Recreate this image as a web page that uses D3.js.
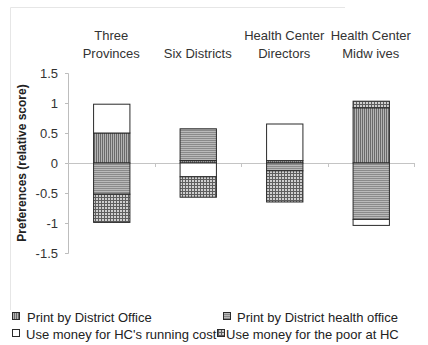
<!DOCTYPE html>
<html><head><meta charset="utf-8">
<script src="https://cdn.jsdelivr.net/npm/d3@7"></script>
<style>body{margin:0;background:#fff}svg{display:block}</style>
</head><body><svg id="c" width="428" height="345"></svg>
<script>
const categories = [["Three","Provinces"],["Six Districts"],["Health Center","Directors"],["Health Center","Midw ives"]];
const seriesNames = ["Print by District Office","Print by District health office","Use money for HC's running cost","Use money for the poor at HC"];
const printDistrictOffice = [0.50, 0.04, 0.04, 0.92];
const printDistrictHealthOffice = [-0.52, 0.53, -0.13, -0.94];
const useMoneyRunningCost = [0.48, -0.23, 0.61, -0.10];
const useMoneyPoor = [-0.47, -0.34, -0.52, 0.11];
const yTicks = [1.5, 1, 0.5, 0, -0.5, -1, -1.5];

const svg = d3.select("#c");
const defs = svg.append("defs");
// patterns
let p = defs.append("pattern").attr("id","pv").attr("patternUnits","userSpaceOnUse").attr("width",2).attr("height",2);
p.append("rect").attr("width",2).attr("height",2).attr("fill","#b4b4b4");
p.append("rect").attr("width",1).attr("height",2).attr("fill","#6a6a6a");
p = defs.append("pattern").attr("id","ph").attr("patternUnits","userSpaceOnUse").attr("width",2).attr("height",2);
p.append("rect").attr("width",2).attr("height",2).attr("fill","#bababa");
p.append("rect").attr("width",2).attr("height",1).attr("fill","#8a8a8a");
p = defs.append("pattern").attr("id","pd").attr("patternUnits","userSpaceOnUse").attr("width",3).attr("height",3);
p.append("rect").attr("width",3).attr("height",3).attr("fill","#5e5e5e");
p.append("rect").attr("width",2).attr("height",2).attr("fill","#cfcfcf");
const fills = ["url(#pv)","url(#ph)","#ffffff","url(#pd)"];

// frame
svg.append("path").attr("d","M10.5,310 V7.5 H345").attr("fill","none").attr("stroke","#e6e6e6");

const keys = seriesNames;
const rows = categories.map((c,i)=>({i, [keys[0]]:printDistrictOffice[i],[keys[1]]:printDistrictHealthOffice[i],[keys[2]]:useMoneyRunningCost[i],[keys[3]]:useMoneyPoor[i]}));
const stacked = d3.stack().keys(keys).offset(d3.stackOffsetDiverging)(rows);

const x = d3.scaleBand().domain(d3.range(categories.length)).range([68,414]).paddingInner(0.58).paddingOuter(0.29);
const xb = d3.scaleBand().domain(d3.range(categories.length)).range([68,414]);
const y = d3.scaleLinear().domain([-1.5,1.5]).range([253,73]);

// y axis
const yAxis = svg.append("g").attr("transform","translate(68,0)")
  .call(d3.axisLeft(y).tickValues(yTicks).tickSize(3).tickPadding(7).tickFormat(d=>String(d)));
yAxis.select(".domain").attr("stroke","#bdbdbd");
yAxis.selectAll(".tick line").attr("stroke","#bdbdbd");
yAxis.selectAll(".tick text").attr("font-family","Liberation Sans, Arial, sans-serif").attr("font-size",13).attr("fill","#333");

// zero line
svg.append("line").attr("x1",68).attr("x2",414).attr("y1",y(0)+0.5).attr("y2",y(0)+0.5).attr("stroke","#c4c4c4");
svg.selectAll("line.zt").data(d3.range(1,categories.length+1)).join("line").attr("class","zt")
  .attr("x1",i=>Math.round(xb(0)+xb.bandwidth()*i)+0.5).attr("x2",i=>Math.round(xb(0)+xb.bandwidth()*i)+0.5)
  .attr("y1",y(0)).attr("y2",y(0)+4).attr("stroke","#c4c4c4");

// bars
stacked.forEach((s,k)=>{
  svg.append("g").selectAll("rect").data(s).join("rect")
    .attr("x",(d,i)=>x(i)+0.5).attr("width",x.bandwidth())
    .attr("y",d=>y(Math.max(d[0],d[1]))).attr("height",d=>Math.abs(y(d[0])-y(d[1])))
    .attr("fill",fills[k]).attr("stroke","#2a2a2a").attr("stroke-width",1);
});

// category labels
const lab = svg.append("g").attr("font-family","Liberation Sans, Arial, sans-serif").attr("font-size",13).attr("fill","#333").attr("text-anchor","middle");
categories.forEach((c,i)=>{
  const cx = xb(i)+xb.bandwidth()/2;
  const lines = c.length===1 ? [null,c[0]] : c;
  lines.forEach((t,j)=>{ if(t) lab.append("text").attr("x",cx).attr("y",40+j*18).text(t); });
});

// y title
svg.append("text").attr("transform","translate(26,163) rotate(-90)").attr("text-anchor","middle")
  .attr("font-family","Liberation Sans, Arial, sans-serif").attr("font-size",12).attr("font-weight","bold").attr("fill","#222")
  .text("Preferences (relative score)");

// legend
const legPos = [[12,27,322],[223,237,322],[12,26,339],[217,226,339]];
const lg = svg.append("g").attr("font-family","Liberation Sans, Arial, sans-serif").attr("font-size",13).attr("fill","#222");
seriesNames.forEach((n,k)=>{
  const [sx,tx,ty]=legPos[k];
  lg.append("rect").attr("x",sx+0.5).attr("y",ty-9.5).attr("width",7).attr("height",7).attr("fill",fills[k]).attr("stroke","#2a2a2a");
  lg.append("text").attr("x",tx).attr("y",ty).text(n);
});
</script></body></html>
